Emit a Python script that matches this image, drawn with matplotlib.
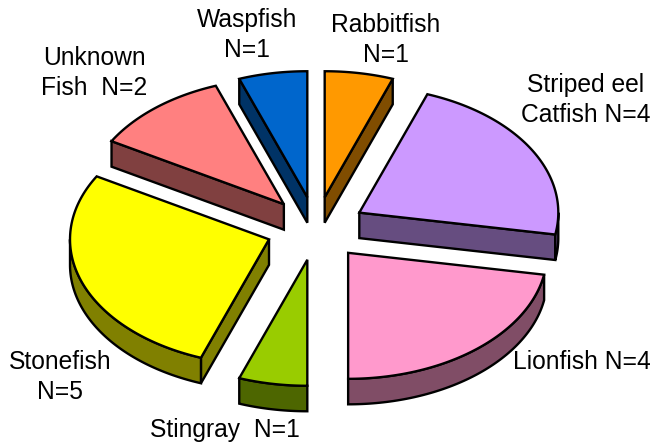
import matplotlib
matplotlib.use('agg')
import matplotlib.pyplot as plt
import numpy as np

species = ['Rabbitfish', 'Striped eel Catfish', 'Lionfish', 'Stingray', 'Stonefish', 'Unknown Fish', 'Waspfish']
counts = [1, 4, 4, 1, 5, 2, 1]
top_colors = ['#FF9900', '#CC99FF', '#FF99CC', '#99CC00', '#FFFF00', '#FF8080', '#0066CC']
side_colors = ['#804D00', '#664D80', '#804D66', '#4D6600', '#808000', '#804040', '#003366']
labels = ['Rabbitfish\nN=1', 'Striped eel\nCatfish N=4', 'Lionfish N=4', 'Stingray  N=1',
          'Stonefish\nN=5', 'Unknown\nFish  N=2', 'Waspfish\nN=1']
label_pos = [(386, 40), (586, 100), (582, 362), (225, 430), (60, 377), (94, 73), (247, 35)]

cx, cy = 316, 228.5
rx, ry = 199, 126
explode = 50
depth = 25.5
lw = 1.7
# back slices first, so the front ones overlap them
draw_order = [0, 6, 5, 1, 4, 3, 2]

fig = plt.figure(figsize=(6.51, 4.45), dpi=100)
ax = fig.add_axes([0, 0, 1, 1])
ax.set_xlim(0, 651)
ax.set_ylim(445, 0)
ax.axis('off')

edges = np.cumsum([0] + counts) / sum(counts) * 2 * np.pi


def project(ang):
    # angle runs clockwise from 12 o'clock
    return rx * np.sin(ang), -ry * np.cos(ang)


for n, i in enumerate(draw_order):
    a0, a1 = edges[i], edges[i + 1]
    mid = (a0 + a1) / 2
    ox = cx + explode * np.sin(mid)
    oy = cy - explode * 0.635 * np.cos(mid)
    x, y = project(np.linspace(a0, a1, 80))
    x = x + ox
    y = y + oy

    # only the cut faces turned to the viewer
    faces = []
    if a0 > np.pi + 1e-6:
        faces.append((x[0], y[0]))
    if a1 < np.pi - 1e-6:
        faces.append((x[-1], y[-1]))
    for xa, ya in faces:
        ax.fill([ox, xa, xa, ox], [oy, ya, ya + depth, oy + depth],
                facecolor=side_colors[i], edgecolor='black', linewidth=lw, zorder=n * 2 + 1)

    lo, hi = max(a0, np.pi / 2), min(a1, 3 * np.pi / 2)
    if lo < hi:
        bx, by = project(np.linspace(lo, hi, 80))
        bx = bx + ox
        by = by + oy
        ax.fill(np.concatenate([bx, bx[::-1]]), np.concatenate([by, by[::-1] + depth]),
                facecolor=side_colors[i], edgecolor='black', linewidth=lw, zorder=n * 2 + 1)

    ax.fill(np.concatenate([[ox], x]), np.concatenate([[oy], y]),
            facecolor=top_colors[i], edgecolor='black', linewidth=lw, zorder=n * 2 + 2)

for lab, (lx, ly) in zip(labels, label_pos):
    ax.text(lx, ly, lab, ha='center', va='center', fontsize=17.7, family='Liberation Sans',
            color='black', linespacing=1.35, zorder=50)

fig.savefig('out.png', dpi=100)
